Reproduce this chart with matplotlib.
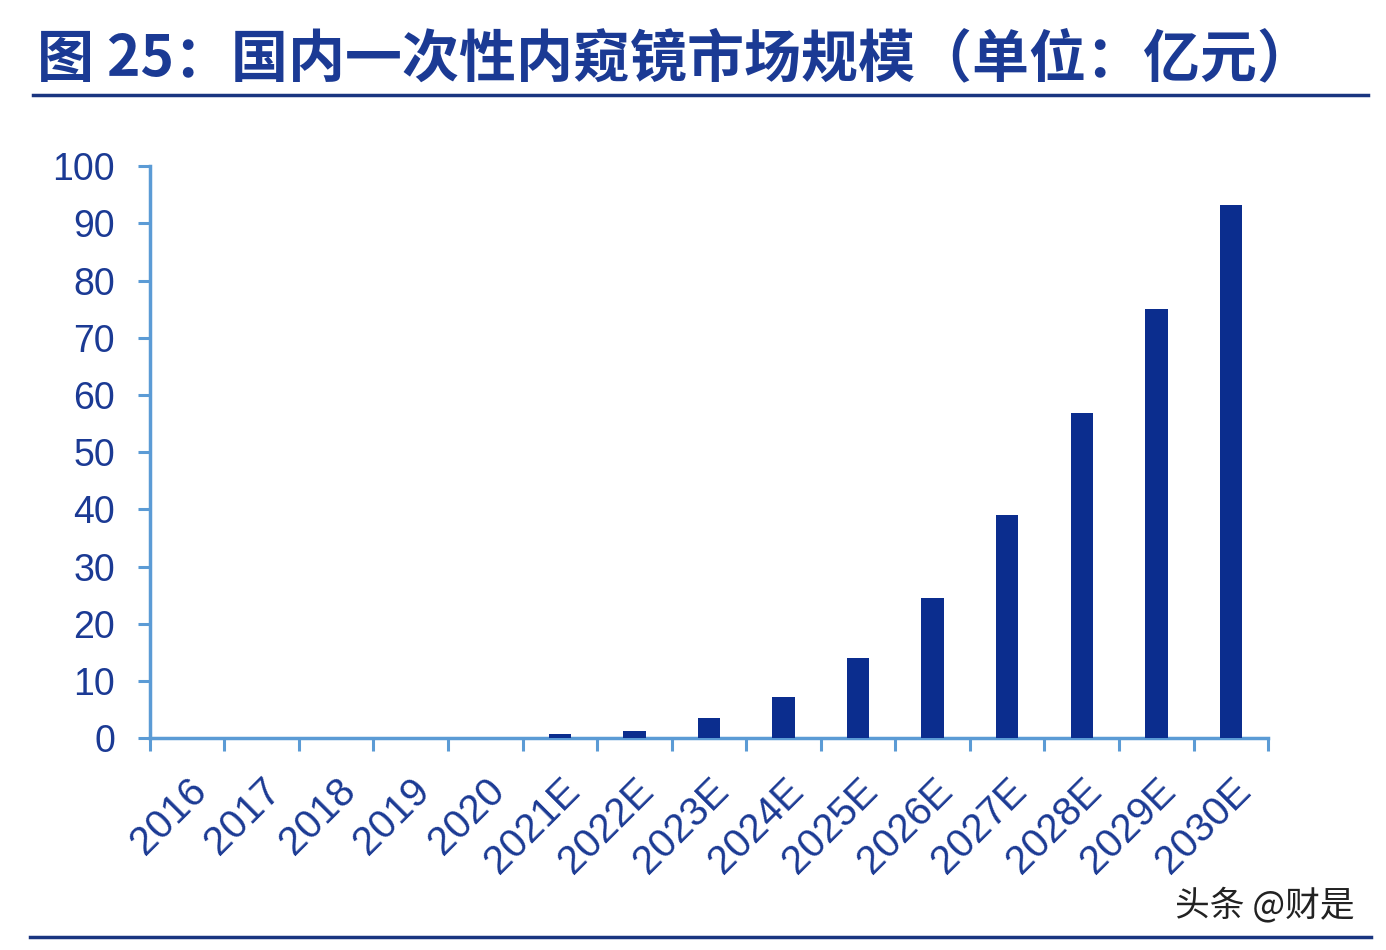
import numpy as np
import matplotlib
matplotlib.use("Agg")
import matplotlib.pyplot as plt
from matplotlib.ticker import FixedLocator

years = ["2016", "2017", "2018", "2019", "2020", "2021E", "2022E", "2023E",
         "2024E", "2025E", "2026E", "2027E", "2028E", "2029E", "2030E"]
market = [0, 0, 0, 0, 0, 0.8, 1.2, 3.5, 7.2, 14.0, 24.5, 39.0, 56.8, 75.0, 93.2]
y_ticks = [0, 10, 20, 30, 40, 50, 60, 70, 80, 90, 100]

title = "图 25：国内一次性内窥镜市场规模（单位：亿元）"
watermark = "头条 @财是"

bar_color = "#0B2D8E"
axis_color = "#5B9BD5"
text_color = "#1B3A94"
num_font = ["Liberation Sans Narrow", "Liberation Sans", "DejaVu Sans"]

fig = plt.figure(figsize=(13.86, 9.5), dpi=100)
ax = fig.add_axes([0.108, 0.223, 0.807, 0.602])

x = np.arange(len(years))
ax.bar(x, market, width=0.3, color=bar_color, zorder=3)

ax.set_xlim(-0.5, len(years) - 0.5)
ax.set_ylim(0, 100)
ax.set_yticks(y_ticks)
ax.set_yticklabels([str(v) for v in y_ticks], fontsize=27, color=text_color,
                   family=num_font)
ax.set_xticks(x)
ax.set_xticklabels(years, rotation=45, ha="right", rotation_mode="anchor",
                   fontsize=29, color=text_color, family=num_font)
ax.xaxis.set_minor_locator(FixedLocator(np.arange(-0.5, len(years), 1)))
ax.tick_params(axis="x", which="major", length=0, pad=24)
ax.tick_params(axis="x", which="minor", length=9, width=2.2, color=axis_color)
ax.tick_params(axis="y", length=9, width=2.2, color=axis_color, pad=16)

for side in ["top", "right"]:
    ax.spines[side].set_visible(False)
for side in ["left", "bottom"]:
    ax.spines[side].set_color(axis_color)
    ax.spines[side].set_linewidth(2.5)

fig.text(0.027, 0.938, title, fontsize=41, fontweight="bold", color=text_color,
         family=["Noto Sans CJK SC", "DejaVu Sans"], va="center", ha="left")
fig.add_artist(plt.Line2D([0.024, 0.987], [0.900, 0.900], color="#1A3580", lw=2.5))
fig.add_artist(plt.Line2D([0.022, 0.989], [0.014, 0.014], color="#1A3580", lw=2.5))
fig.text(0.848, 0.047, watermark, fontsize=25, color="#222222",
         family=["Noto Sans CJK SC", "DejaVu Sans"], va="center", ha="left")

fig.savefig("out.png", dpi=100, facecolor="white")
